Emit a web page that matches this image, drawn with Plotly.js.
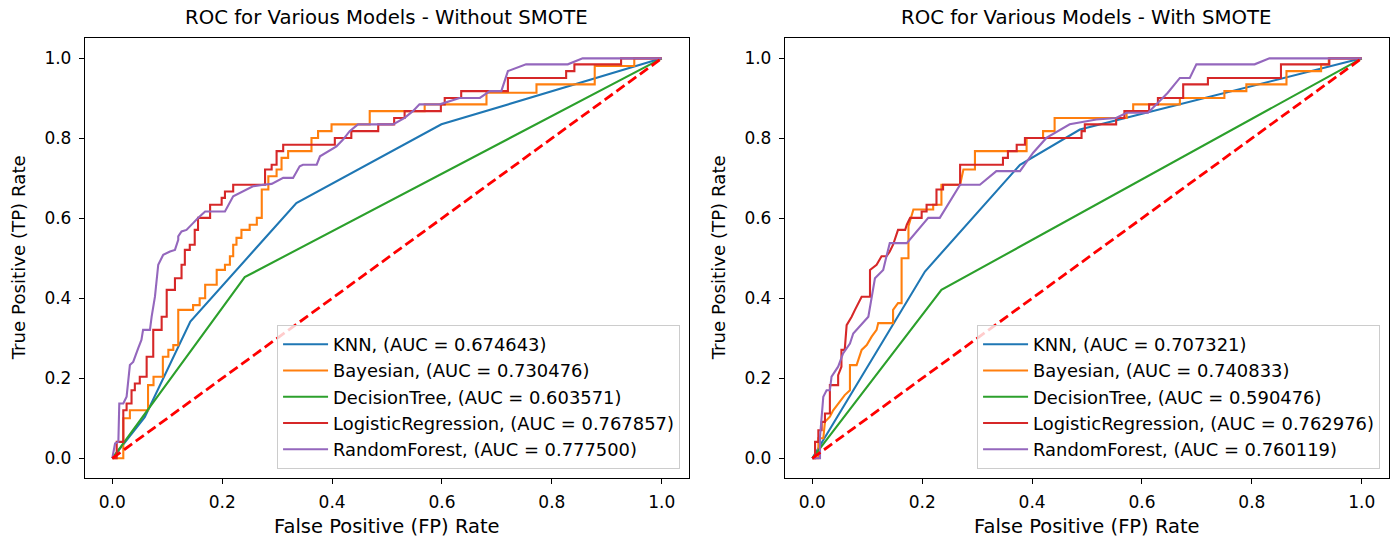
<!DOCTYPE html>
<html>
<head>
<meta charset="utf-8">
<script src="https://cdn.plot.ly/plotly-3.0.1.min.js"></script>
<style>html,body{margin:0;padding:0;background:#fff;}#chart{width:1400px;height:540px;}</style>
</head>
<body>
<div id="chart"></div>
<script>
// ---------- Data: Without SMOTE ----------
const modelNames = ["KNN", "Bayesian", "DecisionTree", "LogisticRegression", "RandomForest"];
const aucWithout = ["0.674643", "0.730476", "0.603571", "0.767857", "0.777500"];
const aucWith = ["0.707321", "0.740833", "0.590476", "0.762976", "0.760119"];
const colors = ["#1f77b4", "#ff7f0e", "#2ca02c", "#d62728", "#9467bd"];
const tickVals = [0.0, 0.2, 0.4, 0.6, 0.8, 1.0];
const chanceFpr = [0, 1];
const chanceTpr = [0, 1];

const knnFprA = [0, 0.059, 0.142, 0.335, 0.599, 1];
const knnTprA = [0, 0.103, 0.342, 0.638, 0.835, 1];

const bayFprA = [0, 0.02, 0.02, 0.032, 0.032, 0.065, 0.065, 0.075, 0.075, 0.092, 0.092, 0.102, 0.102, 0.111, 0.111, 0.12, 0.12, 0.147, 0.147, 0.159, 0.159, 0.169, 0.169, 0.19, 0.19, 0.205, 0.205, 0.214, 0.214, 0.22, 0.22, 0.226, 0.226, 0.235, 0.235, 0.25, 0.25, 0.263, 0.263, 0.272, 0.272, 0.284, 0.284, 0.299, 0.299, 0.308, 0.308, 0.32, 0.32, 0.3625, 0.3625, 0.3745, 0.3745, 0.399, 0.399, 0.4685, 0.4685, 0.5685, 0.5685, 0.681, 0.681, 0.772, 0.772, 0.878, 0.878, 0.95, 0.95, 1];
const bayTprA = [0, 0, 0.10, 0.10, 0.12, 0.12, 0.183, 0.183, 0.204, 0.204, 0.254, 0.254, 0.271, 0.271, 0.283, 0.283, 0.371, 0.371, 0.383, 0.383, 0.40, 0.40, 0.434, 0.434, 0.471, 0.471, 0.484, 0.484, 0.505, 0.505, 0.534, 0.534, 0.551, 0.551, 0.571, 0.571, 0.584, 0.584, 0.601, 0.601, 0.672, 0.672, 0.705, 0.705, 0.722, 0.722, 0.751, 0.751, 0.768, 0.768, 0.801, 0.801, 0.818, 0.818, 0.835, 0.835, 0.868, 0.868, 0.885, 0.885, 0.914, 0.914, 0.935, 0.935, 0.981, 0.981, 1.0, 1];

const dtFprA = [0, 0.241, 1];
const dtTprA = [0, 0.453, 1];

const lrFprA = [0, 0.008, 0.008, 0.02, 0.02, 0.026, 0.026, 0.035, 0.035, 0.041, 0.041, 0.05, 0.05, 0.0625, 0.0625, 0.0745, 0.0745, 0.0898, 0.0898, 0.099, 0.099, 0.114, 0.114, 0.126, 0.126, 0.132, 0.132, 0.141, 0.141, 0.15, 0.15, 0.156, 0.156, 0.178, 0.178, 0.199, 0.199, 0.205, 0.205, 0.22, 0.22, 0.278, 0.278, 0.29, 0.29, 0.299, 0.299, 0.311, 0.311, 0.405, 0.405, 0.435, 0.435, 0.484, 0.484, 0.513, 0.513, 0.532, 0.532, 0.598, 0.598, 0.605, 0.605, 0.635, 0.635, 0.72, 0.72, 0.826, 0.826, 0.841, 0.841, 0.926, 0.926, 1];
const lrTprA = [0, 0, 0.041, 0.041, 0.12, 0.12, 0.137, 0.137, 0.17, 0.17, 0.187, 0.187, 0.204, 0.204, 0.254, 0.254, 0.321, 0.321, 0.354, 0.354, 0.421, 0.421, 0.45, 0.45, 0.484, 0.484, 0.521, 0.521, 0.534, 0.534, 0.571, 0.571, 0.601, 0.601, 0.634, 0.634, 0.651, 0.651, 0.667, 0.667, 0.684, 0.684, 0.722, 0.722, 0.734, 0.734, 0.768, 0.768, 0.784, 0.784, 0.801, 0.801, 0.818, 0.818, 0.835, 0.835, 0.851, 0.851, 0.868, 0.868, 0.885, 0.885, 0.901, 0.901, 0.918, 0.918, 0.951, 0.951, 0.968, 0.968, 0.985, 0.985, 1.0, 1];

const rfFprA = [0, 0.005, 0.011, 0.0127, 0.02, 0.026, 0.032, 0.038, 0.047, 0.053, 0.056, 0.0685, 0.0716, 0.0776, 0.0836, 0.0927, 0.105, 0.114, 0.12, 0.12, 0.126, 0.135, 0.147, 0.156, 0.169, 0.205, 0.22, 0.232, 0.247, 0.256, 0.275, 0.29, 0.311, 0.329, 0.341, 0.347, 0.372, 0.378, 0.408, 0.42, 0.432, 0.447, 0.511, 0.532, 0.547, 0.559, 0.596, 0.632, 0.669, 0.687, 0.708, 0.72, 0.753, 0.829, 0.856, 1];
const rfTprA = [0, 0.037, 0.041, 0.137, 0.137, 0.154, 0.233, 0.241, 0.275, 0.296, 0.321, 0.321, 0.354, 0.404, 0.484, 0.509, 0.517, 0.521, 0.546, 0.555, 0.567, 0.571, 0.588, 0.601, 0.617, 0.617, 0.655, 0.663, 0.672, 0.68, 0.684, 0.686, 0.701, 0.701, 0.73, 0.734, 0.734, 0.755, 0.78, 0.797, 0.818, 0.835, 0.835, 0.851, 0.868, 0.885, 0.885, 0.901, 0.901, 0.918, 0.918, 0.968, 0.985, 0.985, 1.0, 1];

// ---------- Data: With SMOTE ----------
const knnFprB = [0, 0.205, 0.378, 0.487, 1];
const knnTprB = [0, 0.467, 0.734, 0.822, 1];

const bayFprB = [0, 0.011, 0.011, 0.02, 0.023, 0.032, 0.038, 0.047, 0.059, 0.0685, 0.0685, 0.0806, 0.0898, 0.099, 0.108, 0.117, 0.12, 0.147, 0.147, 0.156, 0.1625, 0.1625, 0.175, 0.175, 0.184, 0.22, 0.22, 0.235, 0.235, 0.269, 0.275, 0.296, 0.296, 0.39, 0.39, 0.42, 0.42, 0.441, 0.441, 0.572, 0.572, 0.584, 0.584, 0.669, 0.669, 0.75, 0.75, 0.79, 0.79, 0.863, 0.863, 0.926, 0.926, 0.94, 0.94, 1];
const bayTprB = [0, 0, 0.05, 0.05, 0.091, 0.104, 0.12, 0.137, 0.158, 0.17, 0.233, 0.233, 0.271, 0.283, 0.304, 0.321, 0.338, 0.338, 0.371, 0.388, 0.388, 0.50, 0.50, 0.58, 0.622, 0.622, 0.634, 0.634, 0.684, 0.684, 0.722, 0.722, 0.768, 0.768, 0.801, 0.801, 0.818, 0.818, 0.851, 0.851, 0.868, 0.868, 0.885, 0.885, 0.901, 0.901, 0.918, 0.918, 0.935, 0.935, 0.968, 0.968, 0.985, 0.985, 1.0, 1];

const dtFprB = [0, 0.235, 1];
const dtTprB = [0, 0.421, 1];

const lrFprB = [0, 0.005, 0.005, 0.011, 0.011, 0.017, 0.017, 0.023, 0.023, 0.032, 0.032, 0.047, 0.047, 0.053, 0.053, 0.059, 0.0625, 0.0685, 0.0716, 0.0776, 0.0836, 0.0898, 0.105, 0.105, 0.117, 0.126, 0.135, 0.141, 0.147, 0.156, 0.169, 0.172, 0.178, 0.199, 0.199, 0.208, 0.208, 0.226, 0.226, 0.238, 0.238, 0.269, 0.269, 0.347, 0.347, 0.356, 0.356, 0.372, 0.372, 0.387, 0.387, 0.49, 0.49, 0.496, 0.496, 0.553, 0.553, 0.568, 0.568, 0.613, 0.613, 0.629, 0.629, 0.675, 0.675, 0.72, 0.72, 0.853, 0.853, 0.941, 0.941, 1];
const lrTprB = [0, 0, 0.041, 0.041, 0.07, 0.07, 0.091, 0.091, 0.112, 0.112, 0.183, 0.183, 0.208, 0.229, 0.271, 0.271, 0.333, 0.346, 0.354, 0.371, 0.388, 0.404, 0.404, 0.471, 0.484, 0.505, 0.505, 0.517, 0.534, 0.571, 0.571, 0.584, 0.601, 0.601, 0.617, 0.617, 0.634, 0.634, 0.672, 0.672, 0.684, 0.684, 0.734, 0.734, 0.751, 0.751, 0.768, 0.768, 0.784, 0.784, 0.801, 0.801, 0.818, 0.818, 0.835, 0.835, 0.851, 0.851, 0.868, 0.868, 0.885, 0.885, 0.901, 0.901, 0.935, 0.935, 0.951, 0.951, 0.985, 0.985, 1.0, 1];

const rfFprB = [0, 0.014, 0.014, 0.02, 0.026, 0.032, 0.035, 0.047, 0.056, 0.0685, 0.0745, 0.0806, 0.102, 0.114, 0.129, 0.135, 0.141, 0.172, 0.211, 0.232, 0.263, 0.269, 0.305, 0.335, 0.378, 0.402, 0.426, 0.4685, 0.517, 0.553, 0.572, 0.611, 0.647, 0.669, 0.687, 0.699, 0.805, 0.832, 1];
const rfTprB = [0, 0, 0.053, 0.154, 0.17, 0.17, 0.204, 0.229, 0.262, 0.287, 0.312, 0.321, 0.354, 0.45, 0.471, 0.505, 0.538, 0.538, 0.601, 0.601, 0.672, 0.684, 0.684, 0.718, 0.718, 0.764, 0.801, 0.835, 0.847, 0.851, 0.864, 0.864, 0.914, 0.951, 0.951, 0.985, 0.985, 1.0, 1];

// ---------- Build traces ----------
const FONT = "DejaVu Sans, Verdana, sans-serif";
const setA = [[knnFprA, knnTprA], [bayFprA, bayTprA], [dtFprA, dtTprA], [lrFprA, lrTprA], [rfFprA, rfTprA]];
const setB = [[knnFprB, knnTprB], [bayFprB, bayTprB], [dtFprB, dtTprB], [lrFprB, lrTprB], [rfFprB, rfTprB]];

const traces = [];
function addPanel(set, aucs, xa, ya, legendId) {
  set.forEach((d, i) => {
    traces.push({
      x: d[0], y: d[1], type: "scatter", mode: "lines",
      name: modelNames[i] + ", (AUC = " + aucs[i] + ")",
      line: {color: colors[i], width: 2.1},
      xaxis: xa, yaxis: ya, legend: legendId, hoverinfo: "skip"
    });
  });
  traces.push({
    x: chanceFpr, y: chanceTpr, type: "scatter", mode: "lines",
    line: {color: "#ff0000", width: 2.8, dash: "10px,4.5px"},
    xaxis: xa, yaxis: ya, showlegend: false, hoverinfo: "skip"
  });
}
addPanel(setA, aucWithout, "x", "y", "legend");
addPanel(setB, aucWith, "x2", "y2", "legend2");

function axis(domain, anchor, standoff) {
  return {
    domain: domain, anchor: anchor, range: [-0.05, 1.05], fixedrange: true,
    tickmode: "array", tickvals: tickVals, tickformat: ".1f",
    ticks: "outside", ticklen: 5, tickwidth: 1, tickcolor: "#000",
    ticklabelstandoff: standoff,
    showline: true, mirror: true, linecolor: "#000", linewidth: 1,
    showgrid: false, zeroline: false,
    tickfont: {family: FONT, size: 17, color: "#000"}, automargin: false
  };
}
const yDom = [0.1143, 0.929];
const legendCommon = {
  xanchor: "left", yanchor: "top",
  bgcolor: "rgba(255,255,255,0.8)", bordercolor: "#cccccc", borderwidth: 1,
  font: {family: FONT, size: 17.9, color: "#000"}, itemwidth: 45,
  entrywidth: 390, entrywidthmode: "pixels"
};
const layout = {
  width: 1400, height: 540,
  margin: {l: 0, r: 0, t: 0, b: 0},
  paper_bgcolor: "#fff", plot_bgcolor: "#fff",
  xaxis: axis([0.0606, 0.4923], "y", 3),
  yaxis: axis(yDom, "x", 4),
  xaxis2: axis([0.5606, 0.9923], "y2", 3),
  yaxis2: axis(yDom, "x2", 4),
  legend: Object.assign({x: 0.1979, y: 0.398}, legendCommon),
  legend2: Object.assign({x: 0.6979, y: 0.398}, legendCommon),
  annotations: [
    {text: "ROC for Various Models - Without SMOTE", x: 0.2764, y: 0.9667, xref: "paper", yref: "paper", showarrow: false, xanchor: "center", yanchor: "middle", font: {family: FONT, size: 19.7, color: "#000"}},
    {text: "ROC for Various Models - With SMOTE", x: 0.7764, y: 0.9667, xref: "paper", yref: "paper", showarrow: false, xanchor: "center", yanchor: "middle", font: {family: FONT, size: 19.7, color: "#000"}},
    {text: "False Positive (FP) Rate", x: 0.2764, y: 0.0246, xref: "paper", yref: "paper", showarrow: false, xanchor: "center", yanchor: "middle", font: {family: FONT, size: 19.5, color: "#000"}},
    {text: "False Positive (FP) Rate", x: 0.7764, y: 0.0246, xref: "paper", yref: "paper", showarrow: false, xanchor: "center", yanchor: "middle", font: {family: FONT, size: 19.5, color: "#000"}},
    {text: "True Positive (TP) Rate", x: 0.0131, y: 0.5222, xref: "paper", yref: "paper", showarrow: false, xanchor: "center", yanchor: "middle", textangle: -90, font: {family: FONT, size: 18.2, color: "#000"}},
    {text: "True Positive (TP) Rate", x: 0.5131, y: 0.5222, xref: "paper", yref: "paper", showarrow: false, xanchor: "center", yanchor: "middle", textangle: -90, font: {family: FONT, size: 18.2, color: "#000"}}
  ],
  showlegend: true
};
Plotly.newPlot("chart", traces, layout, {staticPlot: true, displayModeBar: false});
</script>
</body>
</html>
